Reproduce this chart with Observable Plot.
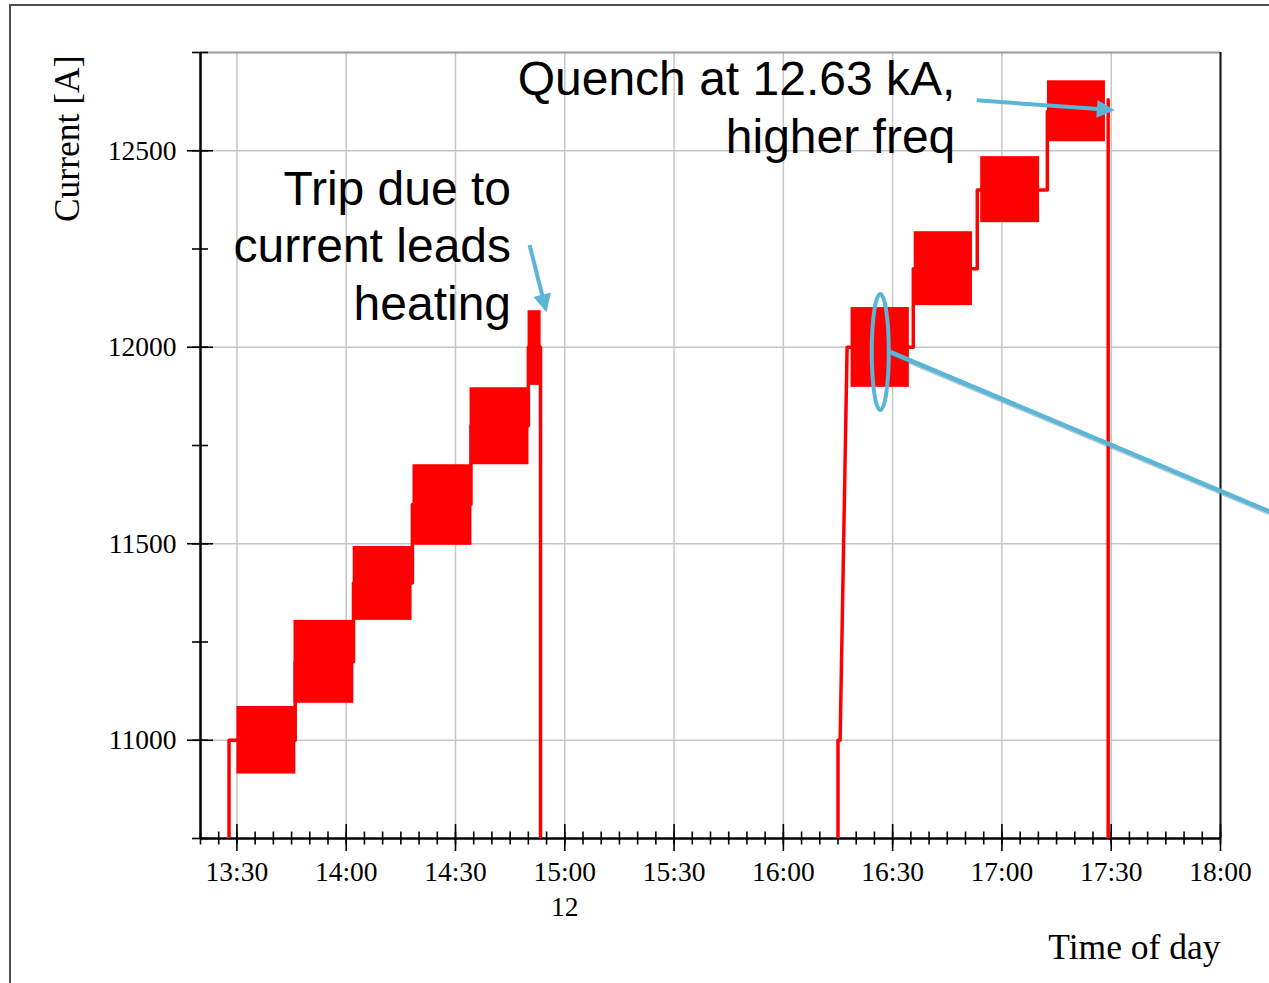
<!DOCTYPE html>
<html>
<head>
<meta charset="utf-8">
<script src="https://cdn.jsdelivr.net/npm/d3@7"></script>
<script src="https://cdn.jsdelivr.net/npm/@observablehq/plot@0.6"></script>
<style>
  html, body { margin: 0; padding: 0; background: #fff; overflow: hidden; }
  #wrap { position: relative; width: 1269px; height: 983px; }
  #chart { position: absolute; left: 0; top: 0; }
  #border { position: absolute; left: 9px; top: 4px; width: 1400px; height: 1100px;
            border-left: 2px solid #4d4d4d; border-top: 2px solid #4d4d4d; pointer-events: none; }
</style>
</head>
<body>
<div id="wrap"><div id="chart"></div><div id="border"></div></div>
<script>
const parse = d3.utcParse("%H:%M:%S");

// Supply current set-point, first ramp (ends in a trip) and second ramp (ends in a quench)
const run1Time = ["13:27:50", "13:27:50", "13:30:00", "13:46:00", "13:46:00", "14:02:00", "14:02:00",
                  "14:18:10", "14:18:10", "14:34:15", "14:34:15", "14:50:00", "14:50:00", "14:53:20", "14:53:20"];
const run1Current = [0, 11000, 11000, 11000, 11200, 11200, 11400,
                     11400, 11600, 11600, 11800, 11800, 12000, 12000, 0];

const run2Time = ["16:15:00", "16:15:00", "16:15:35", "16:17:30", "16:35:40", "16:35:40",
                  "16:53:14", "16:53:14", "17:12:28", "17:12:28", "17:29:10", "17:29:10", "17:29:10"];
const run2Current = [0, 11000, 11000, 12000, 12000, 12200,
                     12200, 12400, 12400, 12600, 12600, 12630, 0];

// Plateaus with the oscillating current: start, end, lowest and highest value
const plateauStart = ["13:30:00", "13:45:40", "14:01:55", "14:18:20", "14:34:00", "14:49:55",
                      "16:18:35", "16:35:55", "16:54:10", "17:12:30"];
const plateauEnd   = ["13:46:10", "14:02:05", "14:18:05", "14:34:30", "14:50:10", "14:53:30",
                      "16:34:35", "16:51:55", "17:10:20", "17:28:25"];
const plateauMin = [10914, 11094, 11305, 11496, 11701, 11903, 11898, 12106, 12317, 12523];
const plateauMax = [11086, 11305, 11493, 11701, 11897, 12093, 12101, 12294, 12485, 12678];

// Axes
const xTickLabels = ["13:30", "14:00", "14:30", "15:00", "15:30", "16:00", "16:30", "17:00", "17:30", "18:00"];
const dayLabel = { "15:00": "12" };
const yTicks = [11000, 11500, 12000, 12500];
const xStart = "13:20:00", xEnd = "18:00:00";
const yMin = 10750, yMax = 12750;

// Callouts
const notes = [
  { time: "14:45:15", current: 12263, text: "Trip due to\ncurrent leads\nheating" },
  { time: "16:47:12", current: 12615, text: "Quench at 12.63 kA,\nhigher freq" }
];
const pointers = [
  { t1: "14:50:28", c1: 12259, t2: "14:55:08", c2: 12088 },
  { t1: "16:53:14", c1: 12627, t2: "17:31:08", c2: 12602 }
];
const ringTime = ["16:24:24", "16:29:05"];
const ringCurrent = [11839, 12134];
const leader = { t1: "16:29:05", c1: 11989, t2: "18:13:26", c2: 11582 };

// ---- build tables
const path = [
  ...run1Time.map((t, i) => ({ run: 1, time: parse(t), current: run1Current[i] })),
  ...run2Time.map((t, i) => ({ run: 2, time: parse(t), current: run2Current[i] }))
];
const plateaus = plateauStart.map((s, i) => ({
  start: parse(s), end: parse(plateauEnd[i]), lo: plateauMin[i], hi: plateauMax[i]
}));
const xDomain = [parse(xStart), parse(xEnd)];
const xTicks = xTickLabels.map(s => parse(s + ":00"));
const minorX = d3.utcMinute.every(5).range(xDomain[0], d3.utcSecond.offset(xDomain[1], 1));
const minorY = d3.range(yMin, yMax + 1, 250);
const fmt = d3.utcFormat("%H:%M");

const serif = "'Liberation Serif', 'Times New Roman', serif";
const sans = "'Liberation Sans', Arial, sans-serif";
const blue = "#5ab5d6";
const red = "#ff0000";

const chart = Plot.plot({
  width: 1269,
  height: 983,
  marginLeft: 200,
  marginRight: 49,
  marginTop: 52,
  marginBottom: 145,
  style: { fontFamily: serif, background: "transparent", overflow: "visible" },
  x: { type: "utc", domain: xDomain, label: null },
  y: { domain: [yMin, yMax], label: null },
  marks: [
    Plot.gridX({ ticks: xTicks, stroke: "#c6c6c6", strokeOpacity: 1, strokeWidth: 1.5 }),
    Plot.gridY({ ticks: yTicks, stroke: "#c6c6c6", strokeOpacity: 1, strokeWidth: 1.5 }),
    Plot.ruleY([yMax], { stroke: "#9a9a9a", strokeWidth: 2 }),
    Plot.ruleX([xDomain[1]], { stroke: "#111", strokeWidth: 2 }),

    // ticks crossing the axis lines
    Plot.axisX({ ticks: minorX, tickSize: 13, dy: -6.5, tickFormat: () => "", strokeWidth: 1.6 }),
    Plot.axisX({ ticks: xTicks, tickSize: 27, dy: -14, tickFormat: () => "", strokeWidth: 1.6 }),
    Plot.axisX({
      ticks: xTicks, tickSize: 0, tickPadding: 18, fontSize: 27.5, lineHeight: 1.27,
      tickFormat: d => dayLabel[fmt(d)] ? fmt(d) + "\n" + dayLabel[fmt(d)] : fmt(d)
    }),
    Plot.axisY({ ticks: minorY, tickSize: 16, dx: 8, tickFormat: () => "", strokeWidth: 1.6 }),
    Plot.axisY({ ticks: yTicks, tickSize: 26, dx: 13, tickFormat: () => "", strokeWidth: 1.6 }),
    Plot.axisY({ ticks: yTicks, tickSize: 0, tickPadding: 24, fontSize: 27.5, tickFormat: d => String(d) }),
    Plot.ruleX([xDomain[0]], { stroke: "#000", strokeWidth: 2.5 }),
    Plot.ruleY([yMin], { stroke: "#000", strokeWidth: 2.5 }),

    // measured current
    Plot.rect(plateaus, { x1: "start", x2: "end", y1: "lo", y2: "hi", fill: red, clip: true }),
    Plot.line(path, { x: "time", y: "current", z: "run", stroke: red, strokeWidth: 3.5, clip: true }),

    // callouts
    Plot.text(notes, {
      x: d => parse(d.time), y: "current", text: "text", textAnchor: "end", lineAnchor: "middle",
      fontFamily: sans, fontSize: 48, lineHeight: 1.2, fill: "#000"
    }),
    Plot.link([leader], {
      x1: d => parse(d.t1), y1: "c1", x2: d => parse(d.t2), y2: "c2",
      stroke: "#2c6d86", strokeOpacity: 0.35, strokeWidth: 4.5, dy: 1.5
    }),
    Plot.link([leader], {
      x1: d => parse(d.t1), y1: "c1", x2: d => parse(d.t2), y2: "c2",
      stroke: blue, strokeWidth: 4.5
    }),

    // axis titles
    Plot.text(["Current [A]"], {
      frameAnchor: "top-left", rotate: -90, textAnchor: "end", lineAnchor: "middle",
      dx: -133, dy: 3, fontSize: 35.5, fontFamily: serif, fill: "#000"
    }),
    Plot.text(["Time of day"], {
      frameAnchor: "bottom-right", textAnchor: "end", lineAnchor: "middle",
      dy: 109, fontSize: 35.5, fontFamily: serif, fill: "#000"
    })
  ]
});

const sx = chart.scale("x"), sy = chart.scale("y");
const svg = d3.select(chart);

// ring marking the oscillating plateau
const rx0 = sx.apply(parse(ringTime[0])), rx1 = sx.apply(parse(ringTime[1]));
const ry0 = sy.apply(ringCurrent[0]), ry1 = sy.apply(ringCurrent[1]);
svg.append("ellipse")
  .attr("cx", (rx0 + rx1) / 2).attr("cy", (ry0 + ry1) / 2)
  .attr("rx", Math.abs(rx1 - rx0) / 2).attr("ry", Math.abs(ry1 - ry0) / 2)
  .attr("fill", "none").attr("stroke", blue).attr("stroke-width", 4);

// pointer arrows with solid triangular heads
const headLen = 18, headHalf = 9;
for (const p of pointers) {
  const a = [sx.apply(parse(p.t1)), sy.apply(p.c1)];
  const b = [sx.apply(parse(p.t2)), sy.apply(p.c2)];
  const len = Math.hypot(b[0] - a[0], b[1] - a[1]);
  const u = [(b[0] - a[0]) / len, (b[1] - a[1]) / len];
  const n = [-u[1], u[0]];
  const base = [b[0] - u[0] * headLen, b[1] - u[1] * headLen];
  svg.append("line")
    .attr("x1", a[0]).attr("y1", a[1]).attr("x2", base[0] + u[0] * 2).attr("y2", base[1] + u[1] * 2)
    .attr("stroke", blue).attr("stroke-width", 4);
  svg.append("polygon")
    .attr("points", [b, [base[0] + n[0] * headHalf, base[1] + n[1] * headHalf],
                        [base[0] - n[0] * headHalf, base[1] - n[1] * headHalf]].map(q => q.join(",")).join(" "))
    .attr("fill", blue);
}

document.getElementById("chart").appendChild(chart);
</script>
</body>
</html>
